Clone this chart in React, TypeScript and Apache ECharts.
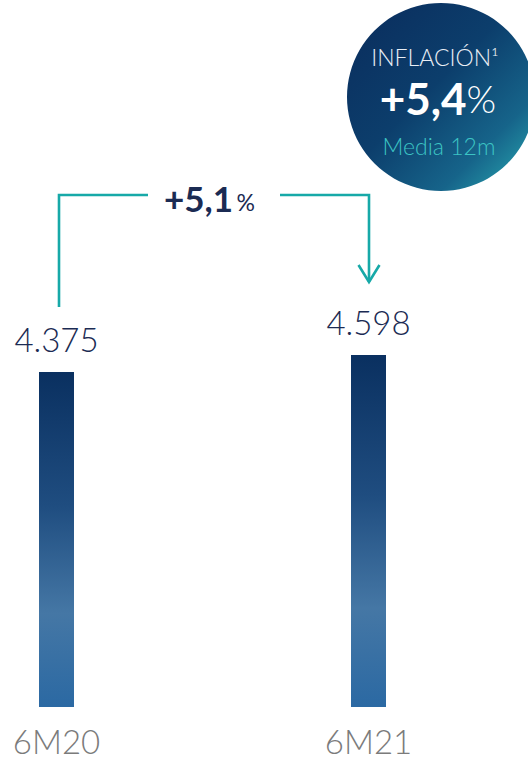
import React, { useEffect, useRef } from "react";
import * as echarts from "echarts";

const categories = ["6M20", "6M21"];
const values = [4375, 4598];
const changeLabel = "+5,1";
const inflationTitle = "INFLACIÓN¹";
const inflationValue = "+5,4";
const inflationSub = "Media 12m";

const FONT = "Lato, 'Open Sans', sans-serif";
const NAVY = "#1b2b53";
const TEAL = "#17a9a8";

function fmt(v: number): string {
  return v.toString().replace(/\B(?=(\d{3})+(?!\d))/g, ".");
}

export default function App() {
  const ref = useRef<HTMLDivElement>(null);
  useEffect(() => {
    if (!ref.current) return;
    const chart = echarts.init(ref.current, undefined, { renderer: "svg" });
    const barGrad = new echarts.graphic.LinearGradient(0, 0, 0, 1, [
      { offset: 0, color: "#0a3060" },
      { offset: 0.4, color: "#1f4d80" },
      { offset: 0.72, color: "#4577a5" },
      { offset: 1, color: "#2b69a3" },
    ]);
    const circleGrad = new echarts.graphic.LinearGradient(0, 0, 1, 1, [
      { offset: 0, color: "#0a2c5c" },
      { offset: 0.45, color: "#0c3e6c" },
      { offset: 0.75, color: "#16648a" },
      { offset: 1, color: "#2bb0b5" },
    ]);
    chart.setOption({
      animation: false,
      grid: { left: 56.5, right: 159.5, top: 247.57, bottom: 52 },
      xAxis: {
        type: "category",
        data: categories,
        boundaryGap: false,
        axisLine: { show: false },
        axisTick: { show: false },
        axisLabel: {
          fontSize: 33,
          color: "#7b7b7b",
          fontFamily: FONT,
          fontWeight: 300,
          margin: 17,
        },
      },
      yAxis: {
        type: "value",
        min: 0,
        max: 6000,
        show: false,
        splitLine: { show: false },
      },
      series: [
        {
          type: "bar",
          data: values,
          barWidth: 35,
          itemStyle: { color: barGrad },
          label: {
            show: true,
            position: "top",
            distance: 16,
            fontSize: 33,
            color: NAVY,
            fontFamily: FONT,
            fontWeight: 300,
            formatter: (p: any) => fmt(p.value),
          },
        },
      ],
      graphic: [
        {
          type: "polyline",
          shape: { points: [[59, 307], [59, 195], [148, 195]] },
          style: { stroke: TEAL, lineWidth: 2.6, fill: "none" },
        },
        {
          type: "polyline",
          shape: { points: [[280, 195], [369, 195], [369, 282]] },
          style: { stroke: TEAL, lineWidth: 2.6, fill: "none" },
        },
        {
          type: "polyline",
          shape: { points: [[358.5, 265], [369, 282], [379.5, 265]] },
          style: { stroke: TEAL, lineWidth: 2.6, fill: "none" },
        },
        {
          type: "text",
          x: 164,
          y: 198,
          style: {
            text: "{a|" + changeLabel + "} {b|%}",
            verticalAlign: "middle",
            rich: {
              a: { fontSize: 35, fontWeight: "bold", fill: NAVY, fontFamily: FONT },
              b: { fontSize: 23, fill: NAVY, fontFamily: FONT, padding: [7, 0, 0, 0] },
            },
          },
        },
        {
          type: "circle",
          shape: { cx: 441, cy: 97, r: 94 },
          style: { fill: circleGrad },
        },
        {
          type: "text",
          x: 435,
          y: 57,
          style: {
            text: inflationTitle,
            align: "center",
            verticalAlign: "middle",
            fontSize: 23,
            fontWeight: 300,
            fill: "#e9eef5",
            fontFamily: FONT,
          },
        },
        {
          type: "text",
          x: 438,
          y: 98,
          style: {
            text: "{a|" + inflationValue + "}{b|%}",
            align: "center",
            verticalAlign: "middle",
            rich: {
              a: { fontSize: 44, fontWeight: "bold", fill: "#ffffff", fontFamily: FONT },
              b: { fontSize: 38, fontWeight: 300, fill: "#ffffff", fontFamily: FONT },
            },
          },
        },
        {
          type: "text",
          x: 439,
          y: 146,
          style: {
            text: inflationSub,
            align: "center",
            verticalAlign: "middle",
            fontSize: 23,
            fontWeight: 300,
            fill: "#3cc4c4",
            fontFamily: FONT,
          },
        },
      ],
    });
    return () => chart.dispose();
  }, []);
  return (
    <div
      ref={ref}
      style={{ position: "fixed", left: 0, top: 0, width: 528, height: 759, background: "#ffffff" }}
    />
  );
}
